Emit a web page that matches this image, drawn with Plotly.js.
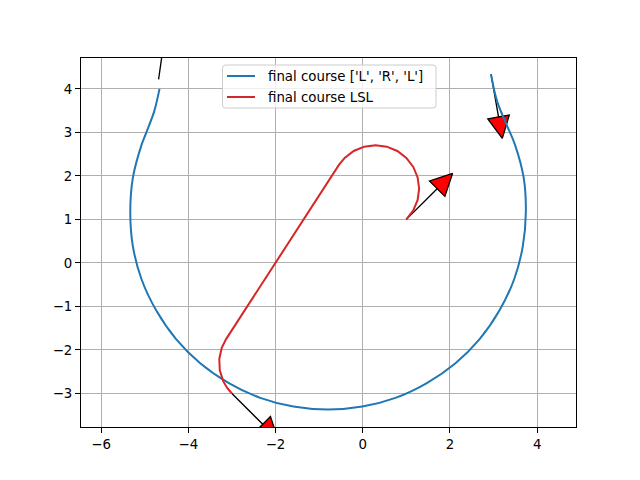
<!DOCTYPE html>
<html>
<head>
<meta charset="utf-8">
<script src="https://cdn.plot.ly/plotly-3.0.1.min.js"></script>
<style>html,body{margin:0;padding:0;background:#fff;}</style>
</head>
<body>
<div id="chart" style="width:640px;height:480px;"></div>
<script>
// ---- data ----
const blueLabel = "final course ['L', 'R', 'L']";
const redLabel = "final course LSL";

const blueX = [2.94, 3.08, 3.31, 3.49, 3.69, 3.74, 3.67, 3.47, 3.13, 2.68, 2.12, 1.47, 0.75, -0.01,
  -0.80, -1.59, -2.35, -3.07, -3.72, -4.28, -4.73, -5.07, -5.27, -5.33, -5.27, -5.07, -4.97, -4.78, -4.66];
const blueY = [4.34, 3.72, 3.15, 2.72, 1.96, 1.17, 0.38, -0.38, -1.10, -1.75, -2.31, -2.76, -3.10, -3.30,
  -3.37, -3.30, -3.10, -2.76, -2.31, -1.75, -1.10, -0.38, 0.38, 1.17, 1.96, 2.72, 2.98, 3.49, 4.00];

const redX = [1.000, 1.159, 1.259, 1.293, 1.259, 1.159, 1.000, 0.793, 0.552, 0.293, 0.034, -0.207, -0.414, -0.546,
  -3.133, -3.233, -3.289, -3.278, -3.199, -3.112, -3.000];
const redY = [1.000, 1.207, 1.448, 1.707, 1.966, 2.207, 2.414, 2.573, 2.673, 2.707, 2.673, 2.573, 2.414, 2.252,
  -1.750, -1.951, -2.206, -2.467, -2.716, -2.867, -3.000];

// arrows (tail position and heading, degrees)
const arrowX = [2.94, -4.68, 1.0, -3.0];
const arrowY = [4.34, 4.22, 1.0, -3.0];
const arrowYaw = [-80, 82, 45, -45];

// ---- arrow shape like matplotlib plt.arrow(length 1, head 0.5) ----
function arrowPolygon(x, y, yawDeg) {
  const L = 1.0, hw = 0.5, hl = 0.5, w = 0.002;
  const t = L + hl;
  const local = [[t,0],[L,hw/2],[L,w/2],[0,w/2],[0,-w/2],[L,-w/2],[L,-hw/2],[t,0]];
  const a = yawDeg * Math.PI / 180, c = Math.cos(a), s = Math.sin(a);
  return {
    x: local.map(p => x + p[0]*c - p[1]*s),
    y: local.map(p => y + p[0]*s + p[1]*c)
  };
}

const traces = [];
for (let i = 0; i < arrowX.length; i++) {
  const p = arrowPolygon(arrowX[i], arrowY[i], arrowYaw[i]);
  traces.push({x: p.x, y: p.y, type: 'scatter', mode: 'lines', fill: 'toself',
    fillcolor: 'red', line: {color: 'black', width: 1.3}, hoverinfo: 'skip', showlegend: false});
}
traces.push({x: blueX, y: blueY, type: 'scatter', mode: 'lines', name: blueLabel,
  line: {color: '#1f77b4', width: 2, shape: 'spline', smoothing: 1}, showlegend: false});
traces.push({x: redX, y: redY, type: 'scatter', mode: 'lines', name: redLabel,
  line: {color: '#d62728', width: 2}, showlegend: false});

// ---- manual matplotlib-style legend (pixel -> paper) ----
const M = {l: 81, r: 64, t: 58, b: 53};
const PW = 640 - M.l - M.r, PH = 480 - M.t - M.b;
const px = v => (v - M.l) / PW;
const py = v => (480 - M.b - v) / PH;
const bx0 = px(222.5), bx1 = px(436), by0 = py(108), by1 = py(65);
const rx = 3 / PW, ry = 3 / PH;
const boxPath = `M${bx0+rx},${by1} L${bx1-rx},${by1} Q${bx1},${by1} ${bx1},${by1-ry} L${bx1},${by0+ry} Q${bx1},${by0} ${bx1-rx},${by0} L${bx0+rx},${by0} Q${bx0},${by0} ${bx0},${by0+ry} L${bx0},${by1-ry} Q${bx0},${by1} ${bx0+rx},${by1} Z`;

const legendRows = [{label: blueLabel, color: '#1f77b4', y: 76}, {label: redLabel, color: '#d62728', y: 97}];
const shapes = [{type: 'path', xref: 'paper', yref: 'paper', path: boxPath,
  fillcolor: 'rgba(255,255,255,0.8)', line: {color: '#cccccc', width: 1}}];
const annotations = [];
legendRows.forEach(r => {
  shapes.push({type: 'line', xref: 'paper', yref: 'paper', x0: px(227), x1: px(255), y0: py(r.y), y1: py(r.y),
    line: {color: r.color, width: 2}});
  annotations.push({xref: 'paper', yref: 'paper', x: px(266), y: py(r.y), text: r.label, showarrow: false,
    xanchor: 'left', yanchor: 'middle', font: {family: 'DejaVu Sans', size: 13.33, color: 'black'}});
});

const axisCommon = {
  showgrid: true, gridcolor: '#b0b0b0', gridwidth: 1,
  zeroline: false, showline: true, linecolor: 'black', linewidth: 1, mirror: true,
  ticks: 'outside', ticklen: 5, tickwidth: 1, tickcolor: 'black',
  tickfont: {family: 'DejaVu Sans', size: 13.33, color: 'black'}
};

const layout = {
  width: 640, height: 480, margin: M,
  paper_bgcolor: 'white', plot_bgcolor: 'white',
  showlegend: false,
  xaxis: Object.assign({}, axisCommon, {range: [-6.46, 4.89], dtick: 2, tick0: 0}),
  yaxis: Object.assign({}, axisCommon, {range: [-3.77, 4.71], dtick: 1, tick0: 0}),
  shapes: shapes, annotations: annotations
};

Plotly.newPlot('chart', traces, layout, {staticPlot: true, displayModeBar: false});
</script>
</body>
</html>
